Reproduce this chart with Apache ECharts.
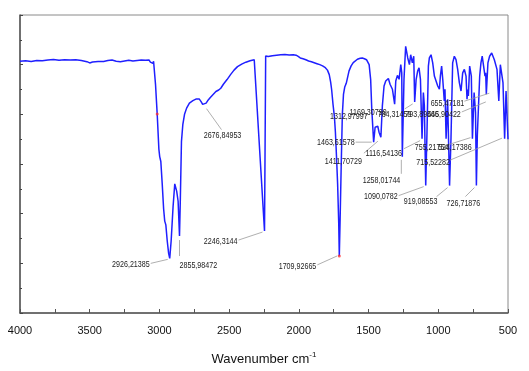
<!DOCTYPE html>
<html><head><meta charset="utf-8">
<script src="https://cdn.jsdelivr.net/npm/echarts@6/dist/echarts.min.js"></script>
<style>html,body{margin:0;padding:0;background:#fff}#c{width:529px;height:371px}</style>
</head><body><div id="c"></div>
<script>
const wavenumber = [4000,3960,3920,3880,3840,3800,3760,3720,3680,3640,3600,3560,3520,3500,3480,3440,3400,3370,3340,3310,3280,3250,3220,3190,3160,3130,3100,3075,3065,3055,3047,3042,3036,3028,3016,3004,2998,2990,2980,2970,2962,2954,2944,2934,2926.2,2916,2902,2890,2884,2876,2866,2856.0,2850,2842,2832,2820,2805,2785,2760,2735,2715,2700,2690,2676.8,2665,2650,2635,2615,2595,2575,2560,2540,2515,2490,2465,2440,2410,2380,2350,2320,2312,2246.3,2238,2220,2190,2160,2130,2100,2070,2040,2020,2005,1990,1970,1950,1930,1910,1890,1870,1850,1830,1810,1795,1782,1772,1765,1755,1745,1738,1730,1722,1714,1709.9,1704,1696,1688,1680,1671,1660,1650,1640,1625,1610,1599,1580,1560,1545,1530,1515,1505,1496,1485,1477,1463.6,1453,1444,1434,1425,1411.7,1401,1389,1377,1365,1358,1346,1329,1313.0,1305,1293,1281,1269,1262,1258.0,1246,1234,1219,1207,1198,1186,1176,1169.3,1159,1148,1138,1128,1116.5,1107,1100,1090.1,1081,1071,1064,1052,1040,1028,1016,1004,992,985,976,968,957,952,944,933,919.1,909,897,885,873,861,849,837,825,813,801,793.9,789,784.3,775,763,755.2,743,733,726.7,720,715.5,703,694,685,675,665,660,655.5,644,632,617,607,598,589,579,565.9,555,545,536,524.2,514,507,503,500];
const transmittance = [10.14,10.16,10.13,10.17,10.16,10.19,10.21,10.18,10.20,10.19,10.20,10.17,10.12,10.07,10.11,10.13,10.13,10.17,10.19,10.14,10.12,10.15,10.18,10.15,10.17,10.19,10.18,10.19,10.10,10.02,10.05,10.14,10.13,9.2,8.01,6.6,6.3,6.1,5.2,4.2,3.7,3.55,2.9,2.4,2.2,2.9,4.3,5.2,5.15,4.9,4.5,3.1,4.6,6.9,7.6,8.0,8.25,8.45,8.55,8.62,8.62,8.5,8.4,8.35,8.45,8.58,8.68,8.8,8.92,8.98,9.05,9.22,9.4,9.6,9.78,9.92,10.02,10.1,10.16,10.2,10.24,3.3,10.35,10.33,10.36,10.38,10.4,10.41,10.39,10.40,10.38,10.33,10.27,10.24,10.20,10.15,10.12,10.08,10.04,10.0,9.95,9.88,9.78,9.6,9.3,9.0,8.4,7.9,7.3,6.3,5.2,3.6,2.3,3.8,6.0,8.0,8.8,9.1,9.25,9.5,9.75,9.95,10.08,10.14,10.22,10.26,10.27,10.24,10.2,10.12,10.0,9.4,8.2,6.88,7.48,7.42,7.52,7.28,7.08,8.35,9.14,9.34,9.28,9.44,9.21,9.01,8.41,9.34,9.57,9.41,10.0,9.67,6.29,9.41,10.74,10.27,10.0,10.4,10.07,10.34,8.5,9.4,9.74,9.87,9.41,7.02,8.88,8.35,5.13,7.28,9.94,10.27,10.4,10.07,9.54,9.47,9.14,9.01,9.54,9.94,9.41,8.54,9.01,7.02,8.61,5.13,7.02,10.07,10.34,10.2,9.81,9.28,8.94,9.67,9.81,9.54,8.61,9.0,8.74,9.94,9.54,7.02,8.88,8.08,5.13,7.15,7.12,9.54,10.07,10.34,9.94,9.54,9.67,8.81,10.07,10.34,10.47,10.54,10.2,10.27,9.81,8.54,10.0,9.94,9.28,7.02,8.94,8.88,8.9,7.0];
const peakWavenumbers = [2926.2,2856.0,2676.8,2246.3,1709.9,1463.6,1411.7,1313.0,1258.0,1169.3,1116.5,1090.1,919.1,793.9,784.3,755.2,726.7,715.5,655.5,565.9,524.2];
const peakLabels = ['2926,21385','2855,98472','2676,84953','2246,3144','1709,92665','1463,61578','1411,70729','1312,97997','1258,01744','1169,30799','1116,54136','1090,0782','919,08553','793,89446','784,31459','755,21754','726,71876','715,52282','655,47181','565,90422','524,17386'];
const redMarks = [3016, 1709.9];
const xTickLabels = [4000,3500,3000,2500,2000,1500,1000,500];

// label layout (pixel offsets from the peak): [lineStart dx,dy, lineEnd dx,dy] or null, [text dx,dy,align]
const peakLayout = [
  [[-2,1,-19,5],[-20,6,'right']],
  [[0,4,0,20],[0,29,'left']],
  [[2,3,17,24],[18,30,'center']],
  [[-2,1,-26,9],[-27,10,'right']],
  [[-2,0,-22,9],[-23,10,'right']],
  [[-2,0,-18,0],[-19,0,'right']],
  [[-3,4,-17,16],[-19,24,'right']],
  [null,[-27,12,'right']],
  [[-1,3,-1,17],[-2,24,'right']],
  [[-2,2,-10,7],[-28,10,'right']],
  [[-2,2,-18,10],[-20,15,'right']],
  [[-2,1,-27,10],[-28,11,'right']],
  [[-2,2,-13,11],[-29,16,'center']],
  [null,[-28,15,'right']],
  [null,[-57,18,'right']],
  [[-2,-1,-24,6],[-24,9,'right']],
  [[-2,2,-11,11],[-13,18,'center']],
  [[24,2,-28,24],[-28,26,'right']],
  [[3,-1,-22,7],[-22,9,'right']],
  [[-13,1,-37,11],[-38,13,'right']],
  [null,[-33,9,'right']]
];

const FONT = '"Liberation Sans",Arial,sans-serif';
function tAt(w){let bi=0,bd=1e9;wavenumber.forEach((x,i)=>{const d=Math.abs(x-w);if(d<bd){bd=d;bi=i;}});return transmittance[bi];}

const chart = echarts.init(document.getElementById('c'));
chart.setOption({
  animation:false,
  grid:{left:20,right:21,top:15,bottom:55,show:true,borderColor:'#8a8a8a',borderWidth:1},
  xAxis:{type:'value',min:500,max:4000,inverse:true,interval:250,
    axisLine:{show:true,onZero:false,lineStyle:{color:'#555',width:1.5}},
    axisTick:{show:true,inside:true,length:4,lineStyle:{color:'#555'}},
    splitLine:{show:false},
    axisLabel:{color:'#111',fontSize:11,fontFamily:FONT,margin:12,
      formatter:v=>xTickLabels.indexOf(v)>=0?String(v):''},
    name:'{a|Wavenumber cm}{s|-1}',nameLocation:'middle',nameGap:38,
    nameTextStyle:{rich:{a:{fontSize:13,fontFamily:FONT,color:'#111'},s:{fontSize:8,fontFamily:FONT,color:'#111',padding:[0,0,9,0]}}}
  },
  yAxis:{type:'value',min:0,max:12,interval:2,
    axisLine:{show:true,lineStyle:{color:'#555',width:1.5}},
    axisTick:{show:true,inside:true,length:3,lineStyle:{color:'#444'}},
    minorTick:{show:true,splitNumber:2,length:2,lineStyle:{color:'#444'}},
    axisLabel:{show:false},splitLine:{show:false}},
  series:[
    {type:'line',data:wavenumber.map((w,i)=>[w,transmittance[i]]),showSymbol:false,
     lineStyle:{color:'#1f1fff',width:1.5},itemStyle:{color:'#1f1fff'},z:3},
    {type:'scatter',data:redMarks.map(w=>[w,tAt(w)]),symbolSize:3,itemStyle:{color:'#ff3030'},z:4},
    {type:'custom',z:5,silent:true,clip:false,
     data:peakWavenumbers.map((w,i)=>[w,tAt(w),i]),
     renderItem:function(params,api){
       const p=api.coord([api.value(0),api.value(1)]);
       const L=peakLayout[api.value(2)];
       const ch=[];
       if(L[0]){ch.push({type:'line',shape:{x1:p[0]+L[0][0],y1:p[1]+L[0][1],x2:p[0]+L[0][2],y2:p[1]+L[0][3]},style:{stroke:'#9a9a9a',lineWidth:0.8}});}
       ch.push({type:'text',x:p[0]+L[1][0],y:p[1]+L[1][1],scaleX:0.75,
         style:{text:peakLabels[api.value(2)],x:0,y:0,align:L[1][2],verticalAlign:'middle',fontSize:9.5,fontFamily:FONT,fill:'#222'}});
       return {type:'group',children:ch};
     }}
  ]
});
</script></body></html>
